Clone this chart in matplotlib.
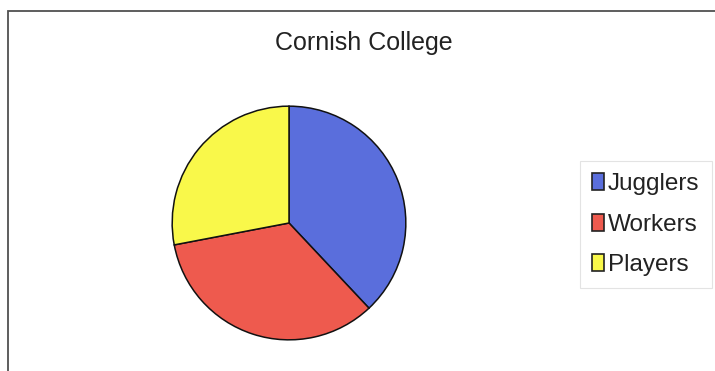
import matplotlib.pyplot as plt
from matplotlib.patches import Rectangle

plt.rcParams['font.family'] = ['Liberation Sans', 'DejaVu Sans']

title = "Cornish College"
labels = ["Jugglers", "Workers", "Players"]
shares = [38, 34, 28]
colors = ["#5a6edc", "#ee5a4e", "#f9f84a"]

W, H = 715, 371
fig = plt.figure(figsize=(W / 100, H / 100), dpi=100)

# outer chart frame (runs off the right and bottom edges)
fig.patches.append(Rectangle((8 / W, -0.05), 1.0, 1 - 11 / H + 0.05,
                             transform=fig.transFigure, fill=False,
                             edgecolor="#505050", linewidth=1.3))

# pie area, centre (289, 223) px, radius 118 px
cx, cy, r = 289, 223, 118
ax = fig.add_axes([(cx - r) / W, (H - cy - r) / H, 2 * r / W, 2 * r / H])
wedges, _ = ax.pie(shares, colors=colors, startangle=90, counterclock=False,
                   radius=1, wedgeprops=dict(edgecolor="#111111", linewidth=1.1))
ax.set_xlim(-1.01, 1.01)
ax.set_ylim(-1.01, 1.01)
ax.set_aspect("equal")
ax.axis("off")

fig.text(364 / W, 1 - 43 / H, title, ha="center", va="center",
         fontsize=18, color="#222222")

leg = fig.legend(wedges, labels, loc="upper left",
                 bbox_to_anchor=(580 / W, 1 - 161 / H),
                 fontsize=17.5, frameon=True, fancybox=False,
                 handlelength=0.5, handleheight=0.72, handletextpad=0.15,
                 labelspacing=0.75, borderpad=0.5, borderaxespad=0)
leg.get_frame().set_edgecolor("#dcdcdc")
leg.get_frame().set_linewidth(0.8)
for h in leg.legend_handles:
    h.set_edgecolor("#222222")
    h.set_linewidth(1.2)
for t in leg.get_texts():
    t.set_color("#222222")

fig.savefig("out.png", dpi=100)
